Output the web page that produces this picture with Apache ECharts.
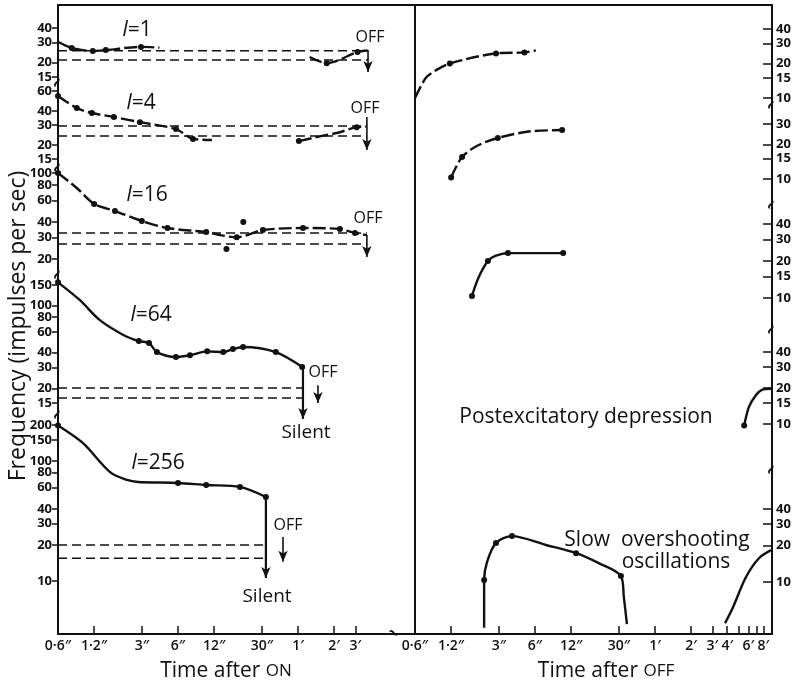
<!DOCTYPE html>
<html><head><meta charset="utf-8">
<script src="https://cdn.jsdelivr.net/npm/echarts@6/dist/echarts.min.js"></script>
<style>html,body{margin:0;padding:0;background:#fff}#c{width:795px;height:683px}</style>
</head><body><div id="c"></div>
<script>
// ---------- tick labels ----------
const onTickVals = [0.6, 1.2, 3, 6, 12, 30, 60, 120, 180];
const onTickLabels = ['0·6″', '1·2″', '3″', '6″', '12″', '30″', '1′', '2′', '3′'];
const offTickVals = [0.6, 1.2, 3, 6, 12, 30, 60, 120, 180, 240, 360, 480];
const offTickLabels = ['0·6″', '1·2″', '3″', '6″', '12″', '30″', '1′', '2′', '3′', '4′', '6′', '8′'];
const offMinorTicks = [300, 420];

const ticksL1 = [15, 20, 30, 40];
const ticksL2 = [15, 20, 30, 40, 60];
const ticksL3 = [20, 30, 40, 60, 80, 100];
const ticksL4 = [15, 20, 30, 40, 60, 80, 100, 150];
const ticksL5 = [10, 20, 30, 40, 60, 80, 100, 150, 200];
const ticksR1 = [10, 15, 20, 30, 40];
const ticksR2 = [10, 15, 20, 30];
const ticksR3 = [10, 15, 20, 30, 40];
const ticksR4 = [10, 15, 20, 30, 40];
const ticksR5 = [10, 20, 30, 40];

// ---------- data: time (s), frequency (impulses/s), dot flags ----------
// I = 1
const on1aT = [0.6, 0.78, 1.17, 1.5, 2.95, 4.2];
const on1aF = [30.4, 26.8, 25.2, 25.7, 27.4, 27.0];
const on1aD = [0, 1, 1, 1, 1, 0];
const on1bT = [75, 104, 188, 228];
const on1bF = [22.4, 19.8, 24.7, 25.5];
const on1bD = [0, 1, 1, 0];
const base1 = [25.4, 21.1];
const off1 = [230, 25.7, 16.6];
// I = 4
const on4aT = [0.6, 0.86, 1.15, 1.75, 2.89, 5.77, 8.0, 11.5];
const on4aF = [54.2, 42.4, 38.3, 35.3, 31.8, 27.6, 22.6, 22.1];
const on4aD = [1, 1, 1, 1, 1, 1, 1, 0];
const on4bT = [61, 95, 129, 185, 222];
const on4bF = [21.6, 24.0, 25.6, 28.7, 29.0];
const on4bD = [1, 0, 0, 1, 0];
const base4 = [29.4, 24.0];
const off4 = [225, 35.3, 18.0];
// I = 16
const on16T = [0.6, 0.86, 1.2, 1.79, 3.0, 4.9, 10.3, 13.4, 18.5, 30.6, 66, 134, 179, 225];
const on16F = [100, 75.5, 56, 49.1, 40.7, 35.7, 33.1, 31.3, 30.0, 34.4, 35.7, 35.0, 32.5, 31.3];
const on16D = [1, 0, 1, 1, 1, 1, 1, 0, 1, 1, 1, 1, 1, 0];
const stray16T = [15.2, 21.0];
const stray16F = [24.1, 40];
const base16 = [32.5, 26.5];
const off16 = [225, 31.3, 20.8];
// I = 64
const on64T = [0.6, 0.91, 1.34, 2.1, 2.83, 3.44, 4.0, 5.77, 7.55, 10.5, 14.3, 17.2, 20.9, 39.2, 65];
const on64F = [158, 112, 75.5, 56.6, 50.2, 48.3, 40.5, 36.8, 38.1, 41.1, 40.5, 43.0, 44.8, 40.5, 30.3];
const on64D = [1, 0, 0, 0, 1, 1, 1, 1, 1, 1, 1, 1, 1, 1, 1];
const base64 = [20.1, 16.5];
const silent64 = [66, 30.3, 11.0];
const off64 = [88, 21.2, 15.0];
// I = 256
const on256T = [0.6, 0.97, 1.63, 2.26, 2.78, 6.0, 10.3, 19.7, 32.4];
const on256F = [198, 141, 81, 69.6, 67, 65.7, 63.2, 60.9, 50.2];
const on256D = [1, 0, 0, 0, 0, 1, 1, 1, 1];
const base256 = [20, 15.5];
const silent256 = [32.4, 50.2, 10.6];
const off256 = [45, 23.3, 14.5];
// after OFF
const r1T = [0.6, 0.74, 0.9, 1.17, 2.84, 4.9, 6.1];
const r1F = [10, 15, 17.5, 20, 24.5, 25, 26];
const r1D = [0, 0, 0, 1, 1, 1, 0];
const r2T = [1.2, 1.48, 2.0, 2.94, 5.3, 10.1];
const r2F = [10.3, 15.5, 19.5, 22.7, 25.8, 26.6];
const r2D = [1, 1, 0, 1, 0, 1];
const r3T = [1.79, 2.04, 2.43, 2.8, 3.57, 10.3];
const r3F = [10.4, 14.8, 20, 22, 23.2, 23.2];
const r3D = [1, 0, 1, 0, 1, 1];
const r4T = [332, 364, 417, 467, 556];
const r4F = [9.7, 13.9, 17.5, 19.3, 19.7];
const r4D = [1, 0, 0, 0, 0];
const r5aT = [2.26, 2.26, 2.39, 2.84, 3.86, 7.4, 13.2, 20.4, 31.2, 33, 35];
const r5aF = [4.2, 10.4, 14.6, 21, 23.9, 20.2, 17.3, 14.3, 11.2, 7.5, 4.5];
const r5aD = [0, 1, 0, 1, 1, 0, 1, 0, 1, 0, 0];
const r5bT = [230, 268, 344, 441, 556];
const r5bF = [4.57, 6.2, 11, 15.7, 18.3];
const r5bD = [0, 0, 0, 0, 0];

// ---------- layout ----------
const FONT = "'Open Sans', Lato, sans-serif";
const INK = '#111';
const X0 = 0.6;
const XMAX = 0.6 * Math.pow(10, 357 / 120);
const panels = [
  { side: 'L', top: 5,   bottom: 83,  a: [40, 28],  b: [15, 77],  ticks: ticksL1 },
  { side: 'L', top: 83,  bottom: 168, a: [60, 91],  b: [15, 159], ticks: ticksL2 },
  { side: 'L', top: 168, bottom: 275, a: [100, 173], b: [20, 259], ticks: ticksL3 },
  { side: 'L', top: 275, bottom: 415, a: [150, 285], b: [15, 403], ticks: ticksL4 },
  { side: 'L', top: 415, bottom: 634, a: [200, 425], b: [10, 581], ticks: ticksL5 },
  { side: 'R', top: 5,   bottom: 105, a: [40, 29],  b: [10, 98],  ticks: ticksR1 },
  { side: 'R', top: 105, bottom: 205, a: [30, 124], b: [10, 179], ticks: ticksR2 },
  { side: 'R', top: 205, bottom: 330, a: [40, 224], b: [10, 298], ticks: ticksR3 },
  { side: 'R', top: 330, bottom: 470, a: [40, 352], b: [10, 424], ticks: ticksR4 },
  { side: 'R', top: 470, bottom: 634, a: [40, 509], b: [10, 582], ticks: ticksR5 }
];

// order ticks so that neighbouring labels are not first/second or last/second-last
// (keeps ECharts from dropping a label next to the min/max label)
function spreadOrder(t) {
  if (t.length < 4) return t.slice();
  const n = t.length;
  return [t[0], t[n - 2]].concat(t.slice(2, n - 2), [t[1], t[n - 1]]);
}

function pickLabel(vals, labels) {
  return function (v) {
    const val = (typeof v === 'object' && v !== null) ? v.value : v;
    for (let i = 0; i < vals.length; i++) {
      if (Math.abs(vals[i] - val) / vals[i] < 1e-3) return labels[i];
    }
    return '';
  };
}

const grids = [
  { left: 58, top: 5, width: 714, height: 629, outerBoundsMode: 'none' },
  { left: 58, top: 5, width: 357, height: 629, outerBoundsMode: 'none' },
  { left: 415, top: 5, width: 357, height: 629, outerBoundsMode: 'none' }
];
const axisLineStyle = { color: INK, width: 2 };
const xLabelStyle = { color: INK, fontFamily: FONT, fontSize: 14, fontWeight: 600, margin: 5,
  hideOverlap: false, showMinLabel: true, showMaxLabel: true };
const xAxes = [
  { gridIndex: 0, type: 'value', position: 'top', min: 0, max: 1,
    axisLine: { show: true, onZero: false, lineStyle: axisLineStyle },
    axisTick: { show: false }, axisLabel: { show: false }, splitLine: { show: false } },
  { gridIndex: 1, type: 'log', logBase: 10, min: X0, max: XMAX, position: 'bottom',
    axisLine: { show: true, onZero: false, lineStyle: axisLineStyle },
    axisTick: { show: true, inside: true, length: 8, customValues: onTickVals, lineStyle: { color: INK, width: 1.5 } },
    axisLabel: Object.assign({ show: true, customValues: onTickVals, formatter: pickLabel(onTickVals, onTickLabels) }, xLabelStyle),
    splitLine: { show: false }, minorTick: { show: false } },
  { gridIndex: 2, type: 'log', logBase: 10, min: X0, max: XMAX, position: 'bottom',
    axisLine: { show: true, onZero: false, lineStyle: axisLineStyle },
    axisTick: { show: true, inside: true, length: 8, customValues: offTickVals.concat(offMinorTicks), lineStyle: { color: INK, width: 1.5 } },
    axisLabel: Object.assign({ show: true, customValues: offTickVals, formatter: pickLabel(offTickVals, offTickLabels) }, xLabelStyle),
    splitLine: { show: false }, minorTick: { show: false } }
];
const yAxes = [
  { gridIndex: 0, type: 'value', position: 'left', min: 0, max: 1,
    axisLine: { show: true, onZero: false, lineStyle: axisLineStyle },
    axisTick: { show: false }, axisLabel: { show: false }, splitLine: { show: false } },
  { gridIndex: 0, type: 'value', position: 'right', min: 0, max: 1,
    axisLine: { show: true, onZero: false, lineStyle: axisLineStyle },
    axisTick: { show: false }, axisLabel: { show: false }, splitLine: { show: false } },
  { gridIndex: 1, type: 'value', show: false, min: 0, max: 1 },
  { gridIndex: 2, type: 'value', position: 'left', min: 0, max: 1,
    axisLine: { show: true, onZero: false, lineStyle: axisLineStyle },
    axisTick: { show: false }, axisLabel: { show: false }, splitLine: { show: false } }
];

panels.forEach(function (p, i) {
  const k = (p.b[1] - p.a[1]) / Math.log10(p.a[0] / p.b[0]);
  const ymax = p.a[0] * Math.pow(10, (p.a[1] - p.top) / k);
  const ymin = p.b[0] * Math.pow(10, -(p.bottom - p.b[1]) / k);
  const left = p.side === 'L' ? 58 : 415;
  grids.push({ left: left, top: p.top, width: 357, height: p.bottom - p.top, outerBoundsMode: 'none' });
  xAxes.push({ gridIndex: 3 + i, type: 'log', logBase: 10, min: X0, max: XMAX, show: false });
  const isL = p.side === 'L';
  const tv = spreadOrder(p.ticks);
  yAxes.push({ gridIndex: 3 + i, type: 'log', logBase: 10, min: ymin, max: ymax,
    position: isL ? 'left' : 'right',
    axisLine: { show: false },
    axisTick: { show: true, inside: !isL, length: isL ? 6 : 9, customValues: tv, lineStyle: { color: INK, width: 1.5 } },
    axisLabel: { show: true, customValues: tv,
      formatter: function (v) { return String(Math.round(typeof v === 'object' ? v.value : v)); },
      color: INK, fontFamily: FONT, fontSize: 13, fontWeight: 'bold', lineHeight: 12, margin: isL ? 6 : 4,
      hideOverlap: false, showMinLabel: true, showMaxLabel: true },
    splitLine: { show: false }, minorTick: { show: false } });
});

const series = [];
function P(name) { return ['L1','L2','L3','L4','L5','R1','R2','R3','R4','R5'].indexOf(name); }
function curve(pn, T, F, D, dashed) {
  const i = P(pn);
  series.push({ type: 'line', xAxisIndex: 3 + i, yAxisIndex: 4 + i, clip: false, smooth: 0.3,
    data: T.map(function (t, j) { return { value: [t, F[j]], symbol: D[j] ? 'circle' : 'none' }; }),
    symbolSize: 6, itemStyle: { color: INK, opacity: 1 },
    lineStyle: { color: INK, width: 2.4, type: dashed ? [13, 4] : 'solid' } });
}
function dots(pn, T, F) {
  const i = P(pn);
  series.push({ type: 'scatter', xAxisIndex: 3 + i, yAxisIndex: 4 + i, clip: false, symbolSize: 6,
    itemStyle: { color: INK, opacity: 1 }, data: T.map(function (t, j) { return [t, F[j]]; }) });
}
function baseline(pn, vals, tEnd) {
  const i = P(pn);
  vals.forEach(function (v) {
    series.push({ type: 'line', xAxisIndex: 3 + i, yAxisIndex: 4 + i, clip: false, symbol: 'none',
      data: [[X0, v], [tEnd, v]], lineStyle: { color: INK, width: 1.5, type: [9, 5] } });
  });
}
function arrow(pn, a, w) {
  const i = P(pn);
  series.push({ type: 'line', xAxisIndex: 3 + i, yAxisIndex: 4 + i, clip: false,
    data: [{ value: [a[0], a[1]], symbol: 'none' }, { value: [a[0], a[2]], symbol: 'arrow', symbolSize: [7, 11], symbolRotate: 180 }],
    itemStyle: { color: INK, opacity: 1 }, lineStyle: { color: INK, width: w || 1.6 } });
}

curve('L1', on1aT, on1aF, on1aD, true);
curve('L1', on1bT, on1bF, on1bD, true);
baseline('L1', base1, off1[0]);
arrow('L1', off1);
curve('L2', on4aT, on4aF, on4aD, true);
curve('L2', on4bT, on4bF, on4bD, true);
baseline('L2', base4, off4[0]);
arrow('L2', off4);
curve('L3', on16T, on16F, on16D, true);
dots('L3', stray16T, stray16F);
baseline('L3', base16, off16[0]);
arrow('L3', off16);
curve('L4', on64T, on64F, on64D, false);
baseline('L4', base64, silent64[0]);
arrow('L4', silent64, 2.2);
arrow('L4', off64);
curve('L5', on256T, on256F, on256D, false);
baseline('L5', base256, silent256[0]);
arrow('L5', silent256, 2.2);
arrow('L5', off256);
curve('R1', r1T, r1F, r1D, true);
curve('R2', r2T, r2F, r2D, true);
curve('R3', r3T, r3F, r3D, false);
curve('R4', r4T, r4F, r4D, false);
curve('R5', r5aT, r5aF, r5aD, false);
curve('R5', r5bT, r5bF, r5bD, false);

// ---------- annotation text ----------
function txt(x, y, s, size, extra) {
  const st = Object.assign({ text: s, fill: INK, font: size + 'px ' + FONT, align: 'center', verticalAlign: 'middle' }, extra || {});
  return { type: 'text', x: x, y: y, style: st, silent: true };
}
const italicRich = { i: { fontStyle: 'italic', fontSize: 21, fontFamily: FONT, fill: INK, color: INK } };
const smallCaps = { s: { fontSize: 17, fontFamily: FONT, fill: INK, color: INK } };
const graphic = [
  txt(137, 30, '{i|I}=1', 21, { rich: italicRich }),
  txt(141, 103, '{i|I}=4', 21, { rich: italicRich }),
  txt(147, 195, '{i|I}=16', 21, { rich: italicRich }),
  txt(151, 315, '{i|I}=64', 21, { rich: italicRich }),
  txt(158, 463, '{i|I}=256', 21, { rich: italicRich }),
  txt(370, 37, 'OFF', 16), txt(365, 108, 'OFF', 16), txt(368, 218, 'OFF', 16),
  txt(323, 372, 'OFF', 16), txt(288, 525, 'OFF', 16),
  txt(306, 433, 'Silent', 19), txt(267, 597, 'Silent', 19),
  txt(586, 417, 'Postexcitatory depression', 21),
  txt(657, 540, 'Slow  overshooting', 21),
  txt(676, 562, 'oscillations', 21),
  txt(226, 671, 'Time after {s|ON}', 21, { rich: smallCaps }),
  txt(606, 671, 'Time after {s|OFF}', 21, { rich: smallCaps }),
  { type: 'text', x: 18, y: 326, rotation: Math.PI / 2, silent: true,
    style: { text: 'Frequency (impulses per sec)', fill: INK, font: '23px ' + FONT, align: 'center', verticalAlign: 'middle' } }
];
// axis break marks
[[58, 83], [58, 168], [58, 275], [58, 415], [772, 105], [772, 205], [772, 330], [772, 470]].forEach(function (b) {
  graphic.push({ type: 'text', x: b[0], y: b[1], rotation: Math.PI / 3, style: { text: '~', fill: INK, font: 'bold 18px ' + FONT, align: 'center', verticalAlign: 'middle' }, silent: true });
});
graphic.push({ type: 'text', x: 393, y: 634, rotation: -Math.PI / 6, style: { text: '~', fill: INK, font: 'bold 18px ' + FONT, align: 'center', verticalAlign: 'middle' }, silent: true });

const chart = echarts.init(document.getElementById('c'), null, { renderer: 'canvas' });
chart.setOption({
  animation: false,
  backgroundColor: '#fff',
  grid: grids, xAxis: xAxes, yAxis: yAxes, series: series, graphic: graphic
});
</script></body></html>
